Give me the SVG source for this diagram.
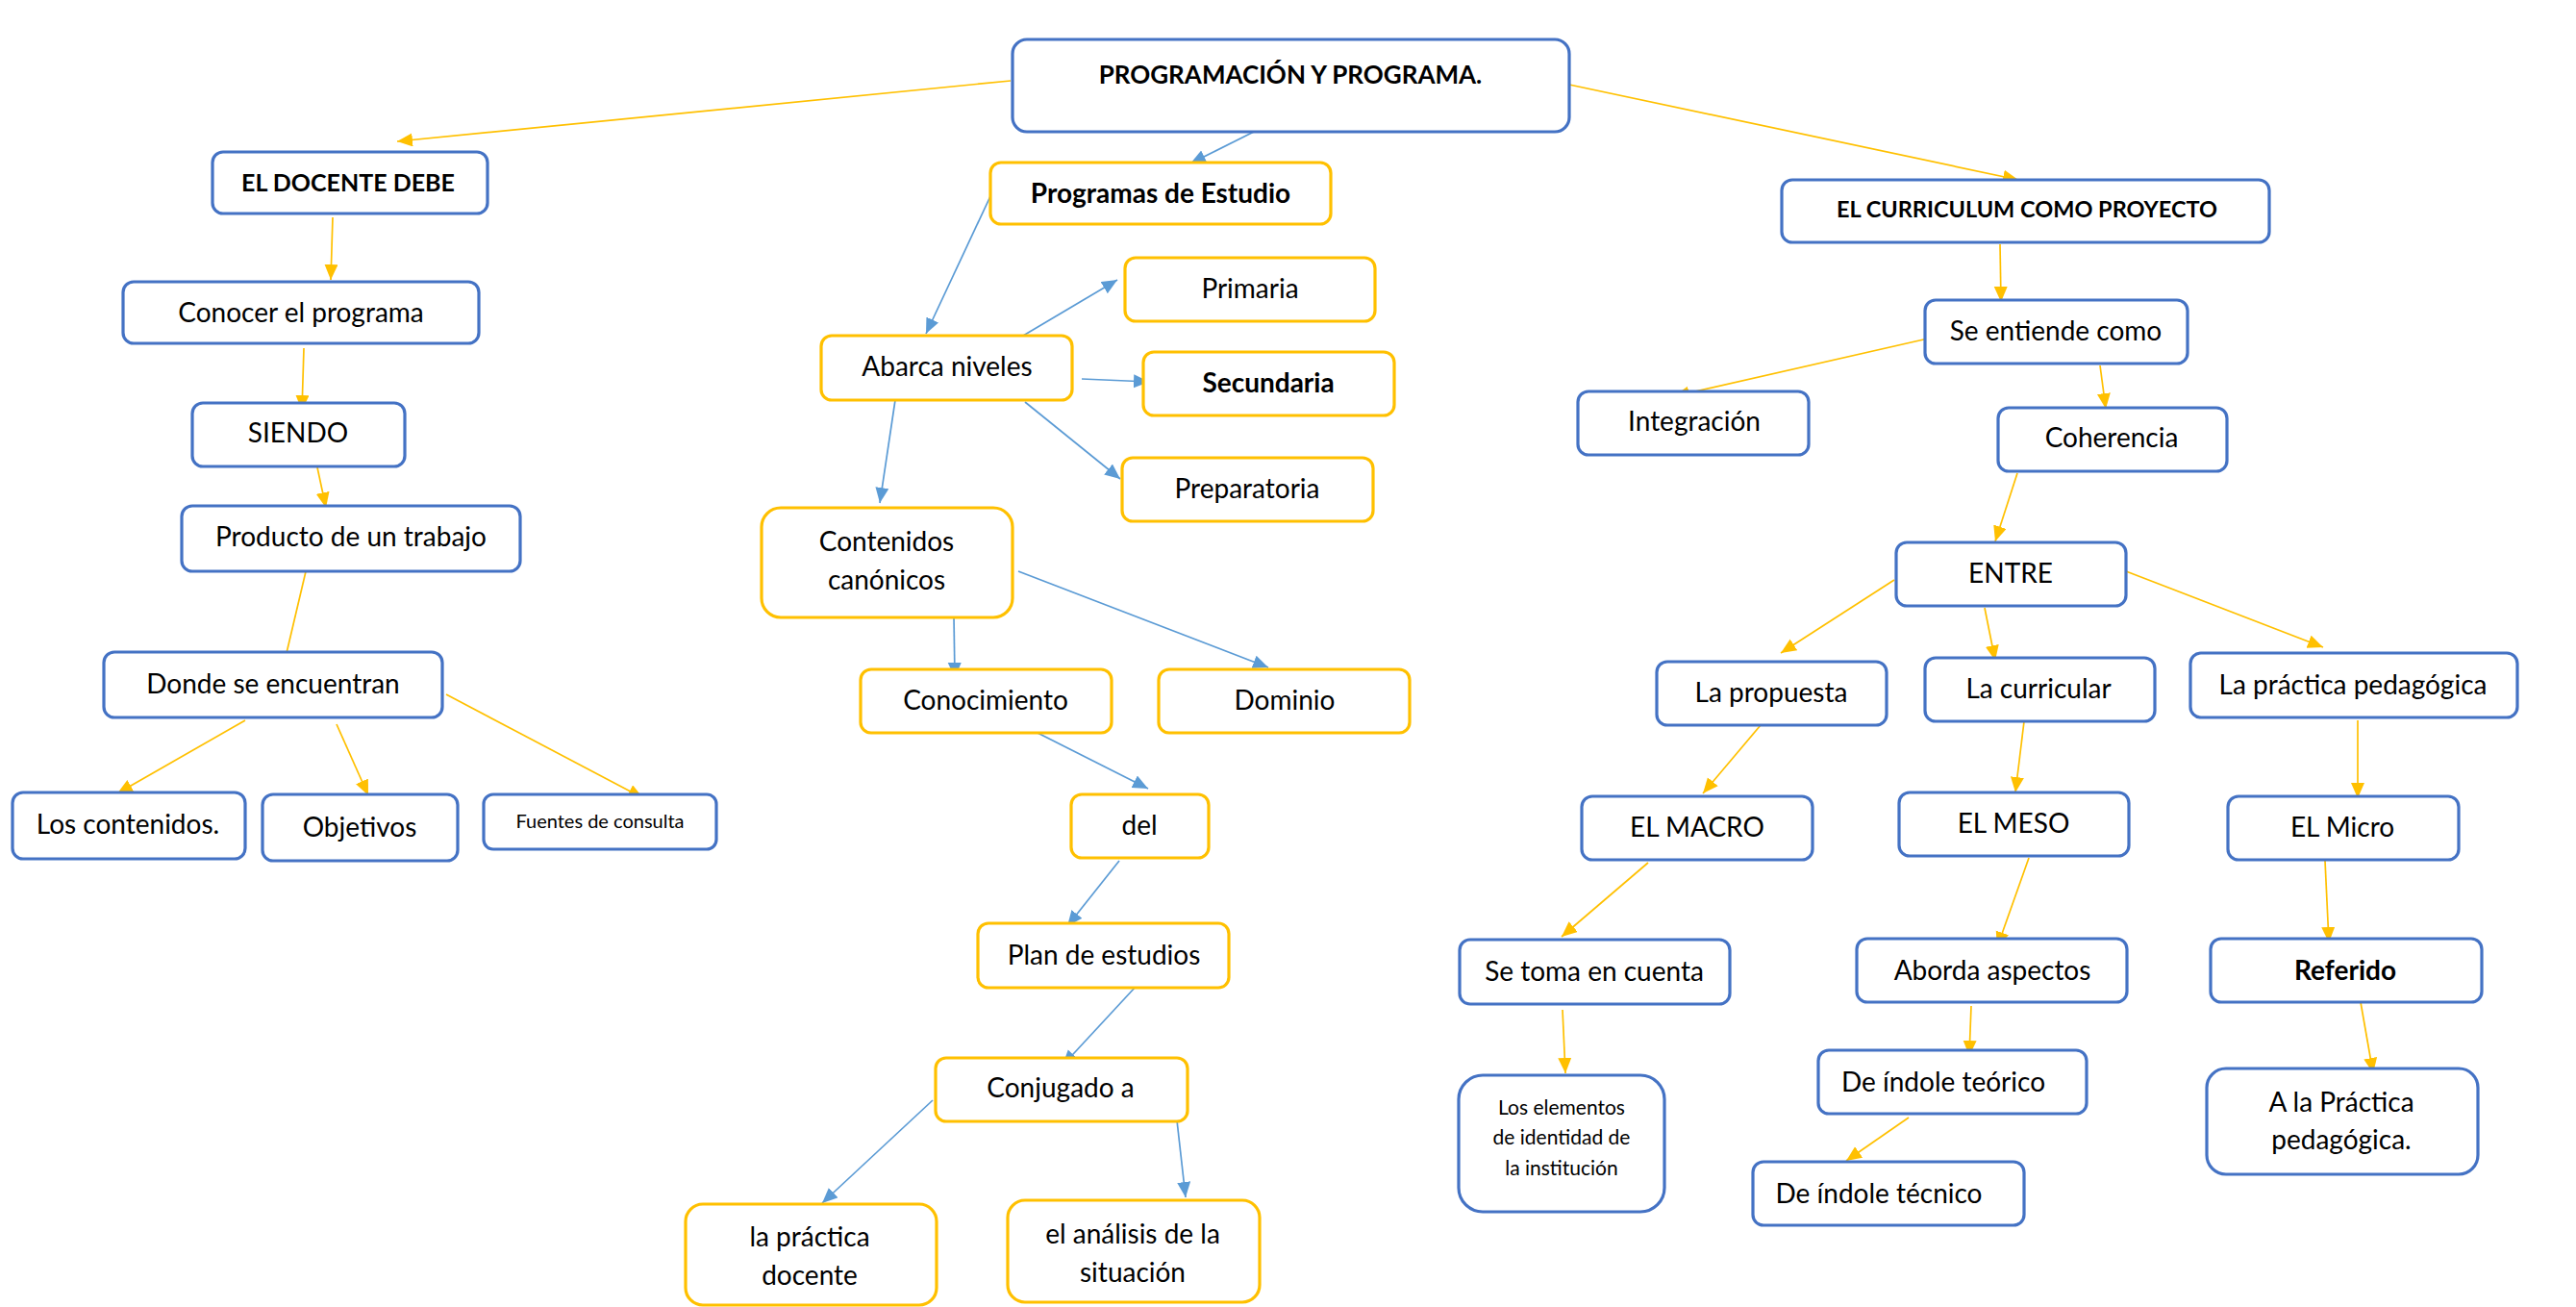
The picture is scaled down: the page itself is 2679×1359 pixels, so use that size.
<svg xmlns="http://www.w3.org/2000/svg" width="2679" height="1359" viewBox="0 0 2679 1359">
<style>
  .b rect{fill:#fff;stroke:#4472C4;stroke-width:3.2}
  .y rect{fill:#fff;stroke:#FFC000;stroke-width:3.2}
  text{font-family:Lato,"Liberation Sans",sans-serif;font-size:28px;fill:#000;text-anchor:middle;dominant-baseline:central}
  .bd{font-weight:bold}
  .sm{font-size:20px}
  .cy line{stroke:#FFC000;stroke-width:1.7;marker-end:url(#ay)}
  .cb line{stroke:#5B9BD5;stroke-width:1.7;marker-end:url(#ab)}
  .cy line.na{marker-end:none}
</style>
<defs>
  <marker id="ay" markerUnits="userSpaceOnUse" markerWidth="18" markerHeight="16" refX="16" refY="7" orient="auto"><path d="M0,0 L16,7 L0,14 z" fill="#FFC000"/></marker>
  <marker id="ab" markerUnits="userSpaceOnUse" markerWidth="18" markerHeight="16" refX="16" refY="7" orient="auto"><path d="M0,0 L16,7 L0,14 z" fill="#5B9BD5"/></marker>
</defs>
<rect width="2679" height="1359" fill="#fff"/>

<g id="connectors">
 <g class="cy">
  <line x1="1051" y1="84" x2="413" y2="147"/>
  <line x1="346" y1="226" x2="344" y2="291"/>
  <line x1="316" y1="362" x2="314" y2="427"/>
  <line x1="330" y1="486" x2="339" y2="528"/>
  <line class="na" x1="319" y1="590" x2="298" y2="679"/>
  <line x1="255" y1="749" x2="122" y2="825"/>
  <line x1="350" y1="753" x2="383" y2="827"/>
  <line x1="464" y1="722" x2="669" y2="830"/>
  <line x1="1632" y1="88" x2="2099" y2="187"/>
  <line x1="2080" y1="254" x2="2081" y2="314"/>
  <line x1="2005" y1="352" x2="1741" y2="412"/>
  <line x1="2184" y1="380" x2="2190" y2="425"/>
  <line x1="2098" y1="492" x2="2075" y2="563"/>
  <line x1="1970" y1="603" x2="1852" y2="679"/>
  <line x1="2064" y1="632" x2="2075" y2="687"/>
  <line x1="2211" y1="594" x2="2416" y2="673"/>
  <line x1="1831" y1="754" x2="1771" y2="825"/>
  <line x1="2105" y1="750" x2="2096" y2="824"/>
  <line x1="2452" y1="749" x2="2452" y2="830"/>
  <line x1="1714" y1="897" x2="1624" y2="974"/>
  <line x1="2110" y1="892" x2="2077" y2="985"/>
  <line x1="2418" y1="895" x2="2422" y2="980"/>
  <line x1="1625" y1="1050" x2="1628" y2="1116"/>
  <line x1="2050" y1="1046" x2="2048" y2="1098"/>
  <line x1="1985" y1="1162" x2="1920" y2="1207"/>
  <line x1="2455" y1="1042" x2="2468" y2="1116"/>
 </g>
 <g class="cb">
  <line x1="1304" y1="137" x2="1238" y2="170"/>
  <line x1="1030" y1="204" x2="963" y2="347"/>
  <line x1="1059" y1="352" x2="1162" y2="291"/>
  <line x1="1125" y1="394" x2="1195" y2="397"/>
  <line x1="931" y1="416" x2="915" y2="523"/>
  <line x1="1066" y1="418" x2="1165" y2="498"/>
  <line x1="992" y1="641" x2="993" y2="705"/>
  <line x1="1059" y1="594" x2="1319" y2="694"/>
  <line x1="1079" y1="762" x2="1194" y2="820"/>
  <line x1="1164" y1="895" x2="1110" y2="963"/>
  <line x1="1181" y1="1026" x2="1105" y2="1108"/>
  <line x1="970" y1="1144" x2="855" y2="1251"/>
  <line x1="1224" y1="1165" x2="1233" y2="1245"/>
 </g>
</g>

<g id="n-title" class="b"><rect x="1053" y="41" width="579" height="96" rx="15"/><text class="bd" x="1342" y="77" style="font-size:26px">PROGRAMACIÓN Y PROGRAMA.</text></g>
<g id="n-docente" class="b"><rect x="221" y="158" width="286" height="64" rx="11"/><text class="bd" x="362" y="189" style="font-size:25px">EL DOCENTE DEBE</text></g>
<g id="n-conocer" class="b"><rect x="128" y="293" width="370" height="64" rx="11"/><text x="313" y="324">Conocer el programa</text></g>
<g id="n-siendo" class="b"><rect x="200" y="419" width="221" height="66" rx="11"/><text x="310" y="449">SIENDO</text></g>
<g id="n-producto" class="b"><rect x="189" y="526" width="352" height="68" rx="11"/><text x="365" y="557">Producto de un trabajo</text></g>
<g id="n-donde" class="b"><rect x="108" y="678" width="352" height="68" rx="11"/><text x="284" y="710">Donde se encuentran</text></g>
<g id="n-loscont" class="b"><rect x="13" y="824" width="242" height="69" rx="11"/><text x="133" y="856">Los contenidos.</text></g>
<g id="n-objetivos" class="b"><rect x="273" y="826" width="203" height="69" rx="11"/><text x="374" y="859">Objetivos</text></g>
<g id="n-fuentes" class="b"><rect x="503" y="826" width="242" height="57" rx="10"/><text class="sm" x="624" y="853">Fuentes de consulta</text></g>

<g id="n-programas" class="y"><rect x="1030" y="169" width="354" height="64" rx="11"/><text class="bd" x="1207" y="200">Programas de Estudio</text></g>
<g id="n-abarca" class="y"><rect x="854" y="349" width="261" height="67" rx="11"/><text x="985" y="380">Abarca niveles</text></g>
<g id="n-primaria" class="y"><rect x="1170" y="268" width="260" height="66" rx="11"/><text x="1300" y="299">Primaria</text></g>
<g id="n-secundaria" class="y"><rect x="1189" y="366" width="261" height="66" rx="11"/><text class="bd" x="1319" y="397">Secundaria</text></g>
<g id="n-preparatoria" class="y"><rect x="1167" y="476" width="261" height="66" rx="11"/><text x="1297" y="507">Preparatoria</text></g>
<g id="n-contcan" class="y"><rect x="792" y="528" width="261" height="114" rx="20"/><text x="922" y="562">Contenidos</text><text x="922" y="602">canónicos</text></g>
<g id="n-conocimiento" class="y"><rect x="895" y="696" width="261" height="66" rx="11"/><text x="1025" y="727">Conocimiento</text></g>
<g id="n-dominio" class="y"><rect x="1205" y="696" width="261" height="66" rx="11"/><text x="1336" y="727">Dominio</text></g>
<g id="n-del" class="y"><rect x="1114" y="826" width="143" height="66" rx="11"/><text x="1185" y="857">del</text></g>
<g id="n-plan" class="y"><rect x="1017" y="960" width="261" height="67" rx="11"/><text x="1148" y="992">Plan de estudios</text></g>
<g id="n-conjugado" class="y"><rect x="973" y="1100" width="262" height="66" rx="11"/><text x="1103" y="1130">Conjugado a</text></g>
<g id="n-lapractica" class="y"><rect x="713" y="1252" width="261" height="105" rx="18"/><text x="842" y="1285">la práctica</text><text x="842" y="1325">docente</text></g>
<g id="n-analisis" class="y"><rect x="1048" y="1248" width="262" height="106" rx="18"/><text x="1178" y="1282">el análisis de la</text><text x="1178" y="1322">situación</text></g>

<g id="n-curriculum" class="b"><rect x="1853" y="187" width="507" height="65" rx="11"/><text class="bd" x="2108" y="217" style="font-size:23.5px">EL CURRICULUM COMO PROYECTO</text></g>
<g id="n-seentiende" class="b"><rect x="2002" y="312" width="273" height="66" rx="11"/><text x="2138" y="343">Se entiende como</text></g>
<g id="n-integracion" class="b"><rect x="1641" y="407" width="240" height="66" rx="11"/><text x="1762" y="437">Integración</text></g>
<g id="n-coherencia" class="b"><rect x="2078" y="424" width="238" height="66" rx="11"/><text x="2196" y="454">Coherencia</text></g>
<g id="n-entre" class="b"><rect x="1972" y="564" width="239" height="66" rx="11"/><text x="2091" y="595">ENTRE</text></g>
<g id="n-propuesta" class="b"><rect x="1723" y="688" width="239" height="66" rx="11"/><text x="1842" y="719">La propuesta</text></g>
<g id="n-curricular" class="b"><rect x="2002" y="684" width="239" height="66" rx="11"/><text x="2120" y="715">La curricular</text></g>
<g id="n-practicaped" class="b"><rect x="2278" y="679" width="340" height="67" rx="11"/><text x="2447" y="711">La práctica pedagógica</text></g>
<g id="n-macro" class="b"><rect x="1645" y="828" width="240" height="66" rx="11"/><text x="1765" y="859">EL MACRO</text></g>
<g id="n-meso" class="b"><rect x="1975" y="824" width="239" height="66" rx="11"/><text x="2094" y="855">EL MESO</text></g>
<g id="n-micro" class="b"><rect x="2317" y="828" width="240" height="66" rx="11"/><text x="2436" y="859">EL Micro</text></g>
<g id="n-setoma" class="b"><rect x="1518" y="977" width="281" height="67" rx="11"/><text x="1658" y="1009">Se toma en cuenta</text></g>
<g id="n-aborda" class="b"><rect x="1931" y="976" width="281" height="66" rx="11"/><text x="2072" y="1008">Aborda aspectos</text></g>
<g id="n-referido" class="b"><rect x="2299" y="976" width="282" height="66" rx="11"/><text class="bd" x="2439" y="1008">Referido</text></g>
<g id="n-elementos" class="b"><rect x="1517" y="1118" width="214" height="142" rx="25"/><text class="sm" x="1624" y="1150" style="font-size:21px">Los elementos</text><text class="sm" x="1624" y="1181" style="font-size:21px">de identidad de</text><text class="sm" x="1624" y="1213" style="font-size:21px">la institución</text></g>
<g id="n-teorico" class="b"><rect x="1891" y="1092" width="279" height="66" rx="11"/><text x="2021" y="1124">De índole teórico</text></g>
<g id="n-tecnico" class="b"><rect x="1823" y="1208" width="282" height="66" rx="11"/><text x="1954" y="1240">De índole técnico</text></g>
<g id="n-alapractica" class="b"><rect x="2295" y="1111" width="282" height="110" rx="20"/><text x="2435" y="1145">A la Práctica</text><text x="2435" y="1184">pedagógica.</text></g>
</svg>
